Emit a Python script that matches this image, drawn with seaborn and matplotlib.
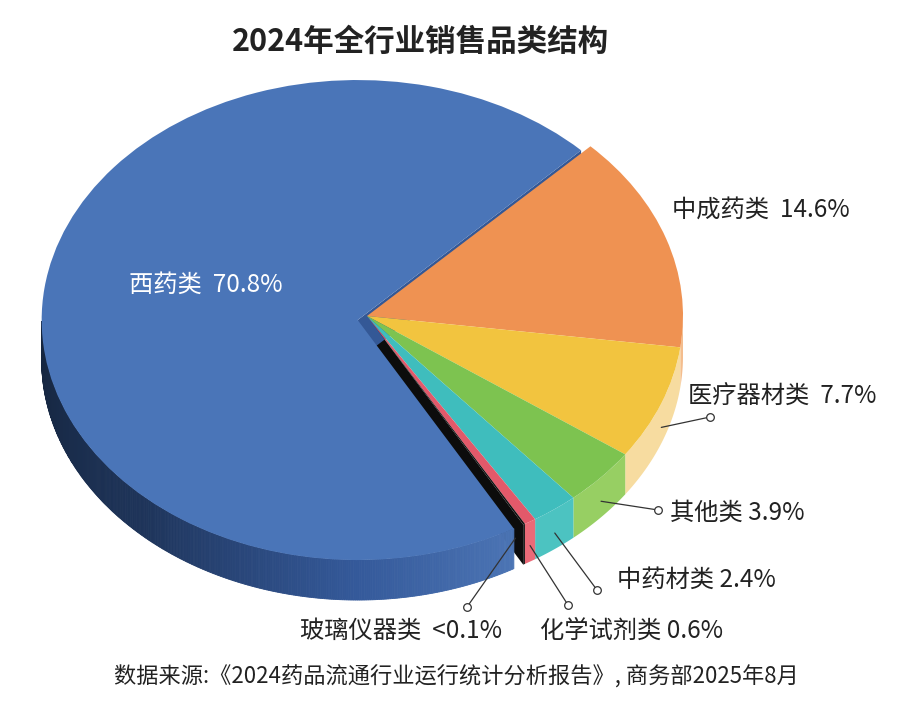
import numpy as np
import matplotlib
matplotlib.use("Agg")
import matplotlib.pyplot as plt
import matplotlib.colors as mcolors
import seaborn as sns

# slice order follows the chart clockwise, starting at the top right
categories = ["中成药类", "医疗器材类", "其他类", "中药材类", "化学试剂类", "玻璃仪器类", "西药类"]
shares = [14.6, 7.7, 3.9, 2.4, 0.6, 0.1, 70.8]
share_labels = ["14.6%", "7.7%", "3.9%", "2.4%", "0.6%", "<0.1%", "70.8%"]
top_colors = ["#ef9252", "#f2c43f", "#7dc350", "#3fbdbd", "#e2596a", "#111111", "#4a75b8"]
side_colors = ["#f4bd8e", "#f7dca0", "#97cf63", "#4cc3c1", "#ea6a78", "#111111", None]

title = "2024年全行业销售品类结构"
source = "数据来源:《2024药品流通行业运行统计分析报告》, 商务部2025年8月"

sns.set_theme(style="white")
plt.rcParams['font.family'] = ['Noto Sans CJK SC', 'DejaVu Sans']

# pixel layout of the tilted pie
W, H = 900, 705
CX, CY, RX, RY = 367, 316, 316, 240
DEPTH = 40 / RY
PULL = 0.034  # how far the big slice is pulled out


def px(x, y):
    # figure pixel -> pie data coords
    return (x - CX) / RX, (CY - y) / RY


fig = plt.figure(figsize=(W / 100, H / 100), dpi=100)
ax = fig.add_axes([0, 0, 1, 1])
wedges, _ = ax.pie(shares, colors=top_colors, startangle=45, counterclock=False,
                   wedgeprops=dict(linewidth=0))
ax.set_aspect('auto')
x0, y0 = px(0, H)
x1, y1 = px(W, 0)
ax.set_xlim(x0, x1)
ax.set_ylim(y0, y1)
ax.axis('off')

# pull the big slice away from its lower cut edge
big = wedges[6]
phi = np.radians(big.theta2 - 90)
big.set_center((big.center[0] + PULL * np.cos(phi), big.center[1] + PULL * np.sin(phi)))

# extruded sides (only the front half is visible)
blue_side = mcolors.LinearSegmentedColormap.from_list(
    "blue_side", [(0, "#15253d"), (0.4, "#1e345a"), (0.75, "#34599a"), (1, "#4b74b4")])
for w, sc in zip(wedges, side_colors):
    w.set_zorder(3)
    cx, cy = w.center
    t = np.linspace(w.theta1, w.theta2, int(abs(w.theta2 - w.theta1) * 3) + 2)
    t = t[np.sin(np.radians(t)) < 0]
    if len(t) < 2:
        continue
    xs = cx + np.cos(np.radians(t))
    ys = cy + np.sin(np.radians(t))
    if sc is not None:
        ax.fill(np.r_[xs, xs[::-1]], np.r_[ys, ys[::-1] - DEPTH],
                color=sc, lw=0, zorder=2)
    else:
        lo, hi = t.min(), t.max()
        for i in range(len(t) - 1):
            f = ((t[i] + t[i + 1]) / 2 - lo) / (hi - lo)
            c = blue_side(f)
            ax.fill([xs[i], xs[i + 1], xs[i + 1], xs[i]],
                    [ys[i], ys[i + 1], ys[i + 1] - DEPTH, ys[i] - DEPTH],
                    color=c, ec=c, lw=0.6, zorder=2)

# cut faces left open by the pulled slice
bw = wedges[5]
a = np.radians(bw.theta1)
cx, cy = bw.center
ex, ey = cx + np.cos(a), cy + np.sin(a)
ax.fill([cx, ex, ex, cx], [cy, ey, ey - DEPTH, cy - DEPTH],
        color="#0c0c0c", lw=0, zorder=1)
a = np.radians(big.theta1)
cx, cy = big.center
ex, ey = cx + np.cos(a), cy + np.sin(a)
ax.fill([cx, ex, ex, cx], [cy, ey, ey - DEPTH, cy - DEPTH],
        color="#345896", lw=0, zorder=1)

# labels
label_pos = [(672, 210), (688, 397), (670, 513), (617, 580), (540, 631), (300, 631)]
dot_pos = [None, (710, 417), (658, 510), (597, 590), (568, 605), (467, 607)]
for i, (cat, lab) in enumerate(zip(categories[:6], share_labels[:6])):
    gap = "  " if i in (0, 1, 5) else " "
    lx, ly = px(*label_pos[i])
    ax.text(lx, ly, cat + gap + lab, fontsize=17.5, color="#222222",
            ha="left", va="center", zorder=5)
    if dot_pos[i] is None:
        continue
    w = wedges[i]
    if i == 5:
        m = np.radians(w.theta1)
        r = 0.95
    else:
        m = np.radians((w.theta1 + w.theta2) / 2)
        r = 1.0
    axp = w.center[0] + r * np.cos(m)
    ayp = w.center[1] + r * np.sin(m) - 0.6 * DEPTH
    dx, dy = px(*dot_pos[i])
    ax.plot([axp, dx], [ayp, dy], color="#333333", lw=0.9, zorder=5)
    ax.plot(dx, dy, marker="o", ms=5.5, mfc="white", mec="#333333", mew=0.9, zorder=6)

bx, by = px(206, 285)
ax.text(bx, by, categories[6] + "  " + share_labels[6], fontsize=17.5,
        color="white", ha="center", va="center", zorder=5)

fig.text(420 / W, 1 - 42 / H, title, fontsize=22, fontweight="bold",
         color="#222222", ha="center", va="center")
fig.text(456 / W, 1 - 677 / H, source, fontsize=16, color="#222222",
         ha="center", va="center")

fig.savefig("out.png", dpi=100)
